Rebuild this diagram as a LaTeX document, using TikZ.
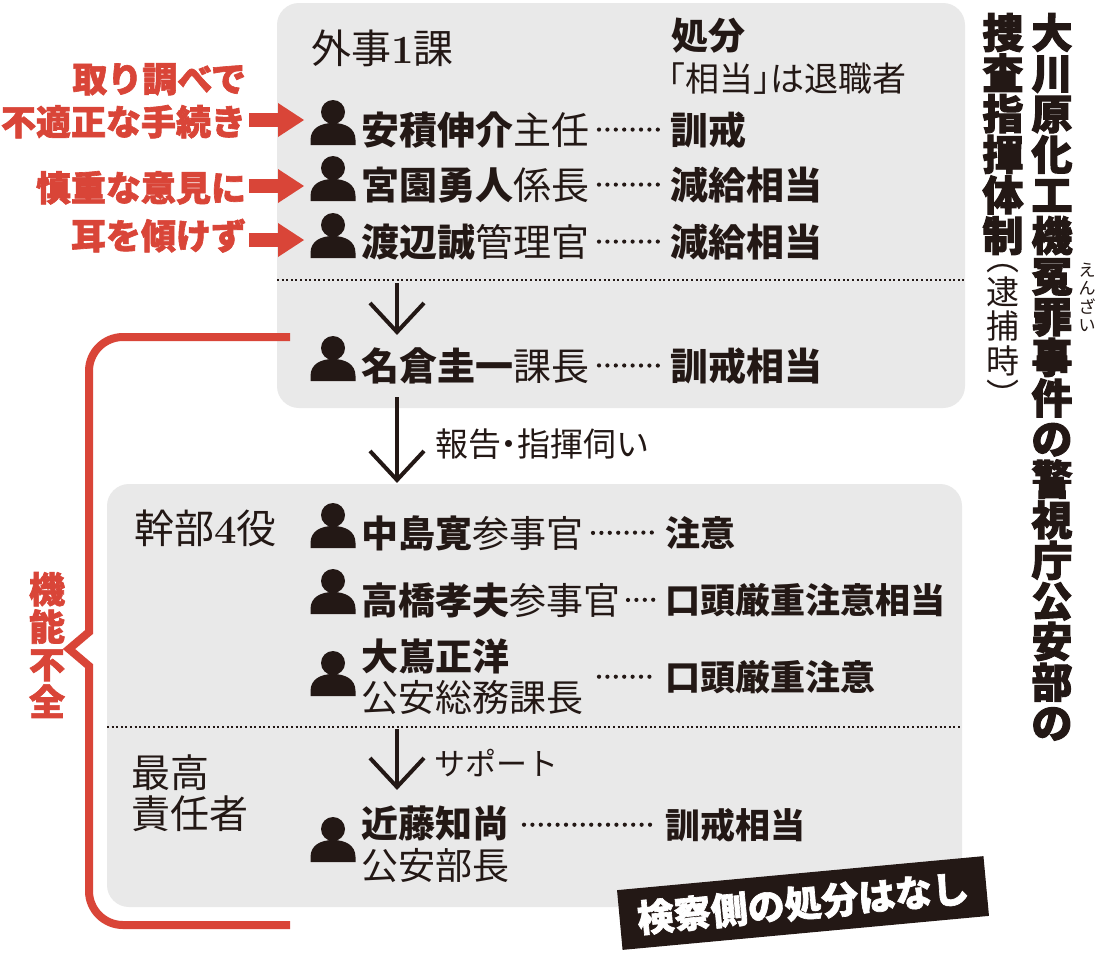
\documentclass[tikz,border=0pt]{standalone}
\usepackage{fontspec}
\usetikzlibrary{arrows.meta,calc}
\newfontfamily\jp{Noto Sans CJK JP}
\newfontfamily\jph{Noto Sans CJK JP}[BoldFeatures={FakeBold=1.8}]
\newfontfamily\jpt{Noto Sans CJK JP}[BoldFeatures={FakeBold=2.4}]
\newcommand\myfs[2]{\fontsize{#1}{#2}\selectfont}
\newcommand\hw[1]{{\addfontfeature{RawFeature=+halt}#1}}
\newcommand\smv[1]{{\jp\mdseries\myfs{33}{40.6}#1}}
\definecolor{ink}{RGB}{35,24,21}
\definecolor{boxgray}{RGB}{233,233,233}
\definecolor{redc}{RGB}{217,69,56}
\begin{document}
\begin{tikzpicture}[x=1pt,y=-1pt,
  every node/.style={inner sep=0pt, outer sep=0pt, text=ink},
  lab/.style={font=\jp\myfs{40}{41}, anchor=base west},
  nm/.style={font=\jp\myfs{38}{40}, anchor=base west},
  nmb/.style={font=\jp\myfs{37}{39}, anchor=base west},
  pen/.style={font=\jp\bfseries\myfs{38}{40}, anchor=base west},
  penb/.style={font=\jp\bfseries\myfs{35}{37}, anchor=base west},
  redtxt/.style={font=\jph\bfseries\myfs{35}{37}, text=redc, anchor=base east},
  leader/.style={draw=ink, line width=4.2pt, line cap=round, dash pattern=on 0pt off 8.4pt},
  sepline/.style={draw=ink, line width=1.6pt, dash pattern=on 2pt off 2.6pt},
  redarrow/.style={draw=redc, line width=14pt, -{Triangle[length=26pt,width=34pt,line width=0pt]}},
  darr/.style={draw=ink, line width=4pt},
  vtitle/.style={font=\jpt\bfseries\myfs{41}{40.6}, align=center, anchor=north},
  person/.pic={
    \fill[ink] (0,-18) circle[radius=12pt];
    \fill[ink] (-22.5,15) -- (-22.5,10) .. controls (-22.5,-2) and (-12,-7) .. (0,-7)
       .. controls (12,-7) and (22.5,-2) .. (22.5,10) -- (22.5,15) -- cycle;
  }
]
\fill[white] (0,0) rectangle (1115,967);
\useasboundingbox (0,0) rectangle (1115,967);

% boxes
\fill[boxgray, rounded corners=22pt] (277,3) rectangle (965,408);
\fill[boxgray, rounded corners=22pt] (107,484) rectangle (962,907);
\draw[sepline] (277,280) -- (965,280);
\draw[sepline] (107,727) -- (962,727);

% red bracket
\draw[redc, line width=8pt] (290,337) -- (123,337)
  arc[start angle=90, end angle=180, radius=34pt] -- (89,632) -- (69,649) -- (89,666)
  -- (89,891) arc[start angle=180, end angle=270, radius=34pt] -- (290,925);
\node[font=\jph\bfseries\myfs{36}{37.5}, text=redc, align=center] (kino) at (47,645) {機\\能\\不\\全};

% header
\node[lab] (gaiji) at (311,63) {外事{\rmfamily\bfseries 1}課};
\node[font=\jp\bfseries\myfs{37}{39}, anchor=base west] (shobun) at (671,49) {処分};
\node[font=\jp\myfs{34}{36}, anchor=base west] (soto) at (668,91) {\hw{「}相当\hw{」}は退職者};

% persons top
\pic at (333,130) {person};
\pic at (333,186) {person};
\pic at (333,243) {person};
\pic at (333,366) {person};

\node[nm] (n1) at (361,144) {{\bfseries 安積伸介}主任};
\node[nm] (n2) at (361,199) {{\bfseries 宮園勇人}係長};
\node[nm] (n3) at (361,256) {{\bfseries 渡辺誠}管理官};
\node[nm] (n4) at (361,380) {{\bfseries 名倉圭一}課長};

\node[pen] (p1) at (670,144) {訓戒};
\node[pen] (p2) at (670,199) {減給相当};
\node[pen] (p3) at (670,256) {減給相当};
\node[pen] (p4) at (670,380) {訓戒相当};

\draw[leader] ($(n1.east)+(10,0)$) -- ($(p1.west)+(-9,0)$);
\draw[leader] ($(n2.east)+(10,0)$) -- ($(p2.west)+(-9,0)$);
\draw[leader] ($(n3.east)+(10,0)$) -- ($(p3.west)+(-9,0)$);
\draw[leader] ($(n4.east)+(10,0)$) -- ($(p4.west)+(-9,0)$);

% red annotations
\node[redtxt] (r1a) at (246,92) {取り調べで};
\node[redtxt] (r1b) at (246,135) {不適正な手続き};
\node[redtxt] (r2a) at (246,201) {慎重な意見に};
\node[redtxt] (r2b) at (246,249) {耳を傾けず};
\coordinate (t1) at (304,120);
\coordinate (t2) at (304,186);
\coordinate (t3) at (304,240);
\draw[redarrow] ($(r1b.east |- t1)+(3,0)$) -- (t1);
\draw[redarrow] ($(r2a.east |- t2)+(3,0)$) -- (t2);
\draw[redarrow] ($(r2b.east |- t3)+(3,0)$) -- (t3);

% dark arrows
\coordinate (a1s) at (397,283); \coordinate (a1e) at (397,332);
\coordinate (a2s) at (397,397); \coordinate (a2e) at (397,480);
\coordinate (a3s) at (397,729); \coordinate (a3e) at (397,787);
\draw[darr] (a1s) -- (a1e);
\draw[darr] ($(a1e)+(-27,-29)$) -- (a1e) -- ($(a1e)+(27,-29)$);
\draw[darr] (a2s) -- (a2e);
\draw[darr] ($(a2e)+(-27,-29)$) -- (a2e) -- ($(a2e)+(27,-29)$);
\draw[darr] (a3s) -- (a3e);
\draw[darr] ($(a3e)+(-27,-29)$) -- (a3e) -- ($(a3e)+(27,-29)$);
\node[font=\jp\myfs{33}{35}, anchor=base west] (hokoku) at (435,456) {報告\hw{・}指揮伺い};
\node[font=\jp\myfs{31}{33}, anchor=base west] (support) at (434,775) {サポート};

% bottom box
\node[lab] (kanbu) at (134,543) {幹部{\rmfamily\bfseries 4}役};
\node[font=\jp\myfs{39}{41}, anchor=base west] (saiko1) at (131,787) {最高};
\node[font=\jp\myfs{39}{41}, anchor=base west] (saiko2) at (131,828) {責任者};

\pic at (333,533) {person};
\pic at (333,599) {person};
\pic at (333,681) {person};
\pic at (333,847) {person};

\node[nmb] (n5) at (361,547) {{\bfseries 中島寛}参事官};
\node[nmb] (n6) at (361,614) {{\bfseries 高橋孝夫}参事官};
\node[nmb] (n7a) at (361,670) {\bfseries 大嶌正洋};
\node[nmb] (n7b) at (361,711) {公安総務課長};
\node[nmb] (n8a) at (361,837) {\bfseries 近藤知尚};
\node[nmb] (n8b) at (361,879) {公安部長};

\node[penb] (p5) at (665,546) {注意};
\node[penb] (p6) at (665,613) {口頭厳重注意相当};
\node[penb] (p7) at (665,690) {口頭厳重注意};
\node[penb] (p8) at (665,838) {訓戒相当};

\draw[leader] ($(n5.east)+(10,0)$) -- ($(p5.west)+(-9,0)$);
\draw[leader] ($(n6.east)+(8,0)$) -- ($(p6.west)+(-9,0)$);
\draw[leader] ($(n7b.east |- p7.west)+(16,0)$) -- ($(p7.west)+(-9,0)$);
\draw[leader] ($(n8a.east |- p8.west)+(15,0)$) -- ($(p8.west)+(-9,0)$);

% title
\node[vtitle] (title1) at (1052,13) {大\\川\\原\\化\\工\\機\\冤\\罪\\事\\件\\の\\警\\視\\庁\\公\\安\\部\\の};
\node[vtitle] (title2) at (1003,13) {捜\\査\\指\\揮\\体\\制\\[-21.6pt]\smv{︵}\\[-6.4pt]\smv{逮}\\[-6.1pt]\smv{捕}\\[-6.1pt]\smv{時}\\[-6.1pt]\smv{︶}};
\node[font=\jp\myfs{17}{18.5}, align=center, anchor=north] (ruby) at (1087,263) {え\\ん\\ざ\\い};

% stamp
\node[fill=ink, text=white, font=\jph\bfseries\myfs{37}{39}, minimum width=368pt, minimum height=60pt, rotate=5.3] (kensatsu) at (803,903) {検察側の処分はなし};
\end{tikzpicture}
\end{document}
